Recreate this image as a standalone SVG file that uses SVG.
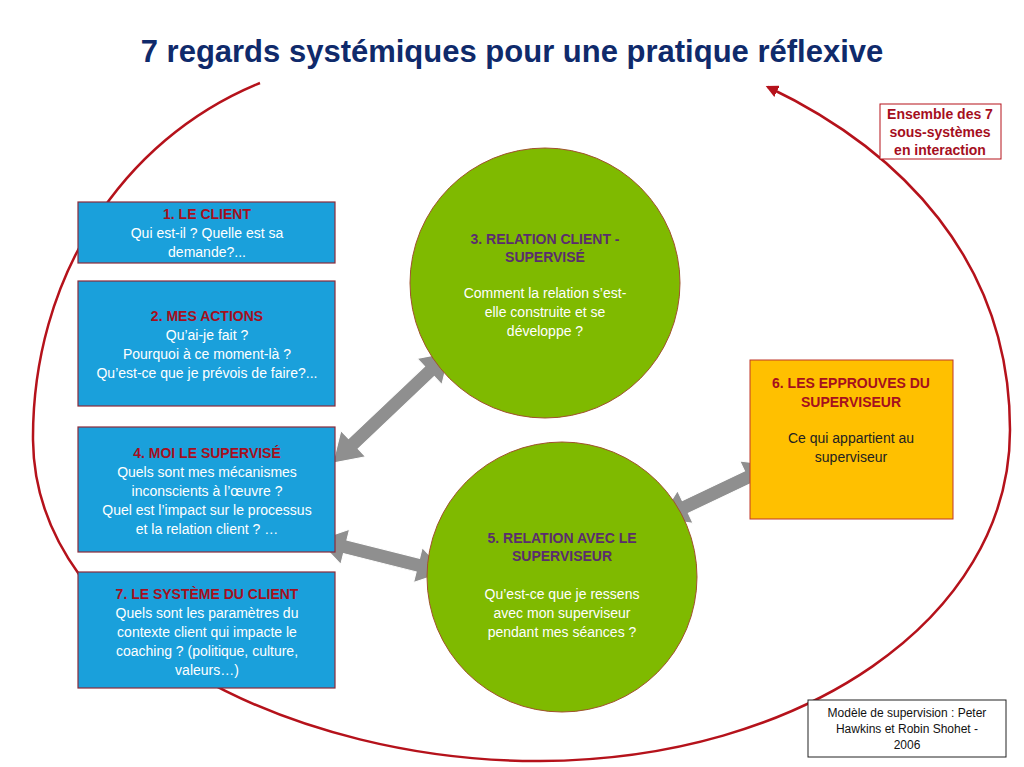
<svg xmlns="http://www.w3.org/2000/svg" width="1024" height="767" viewBox="0 0 1024 767">
<defs>
<style>
text{font-family:"Liberation Sans",Arial,sans-serif;text-anchor:middle}
.box{fill:#1aa0db;stroke:#8b2a3a;stroke-width:1.2}
.circ{fill:#7fba00;stroke:#a0522d;stroke-width:1}
.h{fill:#a50f1e;font-weight:bold;font-size:14px}
.hp{fill:#5a2d6e;font-weight:bold;font-size:14px}
.w{fill:#fff;font-size:14px}
.k{fill:#222;font-size:14px}
.arr{fill:#8f8f8f;stroke:#fff;stroke-width:1}
</style>
<marker id="ah" viewBox="0 0 10 10" refX="8" refY="5" markerWidth="5" markerHeight="5" orient="auto"><path d="M0,0L10,5L0,10z" fill="#b5121b"/></marker>
</defs>
<rect width="1024" height="767" fill="#fff"/>
<text x="512" y="62" style="font-size:31px;font-weight:bold;fill:#0f2a6b">7 regards systémiques pour une pratique réflexive</text>
<g id="connectors">
<path d="M260,83 C120,140 32,280 33,440 C35,640 300,762 540,761 C800,760 1010,620 1010,430 C1010,260 900,150 768,87" fill="none" stroke="#b5121b" stroke-width="2.5" marker-end="url(#ah)"/>
<polygon class="arr" transform="translate(333,463) rotate(-43.5)" points="0,0 28,-18 28,-7 133,-7 133,-18 161,0 133,18 133,7 28,7 28,18"/>
<polygon class="arr" transform="translate(318,540) rotate(14.1)" points="0,0 28,-18 28,-7 103,-7 103,-18 131,0 103,18 103,7 28,7 28,18"/>
<polygon class="arr" transform="translate(660,519) rotate(-25.5)" points="0,0 28,-18 28,-7 97,-7 97,-18 125,0 97,18 97,7 28,7 28,18"/>
</g>
<g id="n1"><rect class="box" x="78" y="202" width="257" height="61"/>
<text class="h" x="207" y="219">1. LE CLIENT</text><text class="w" x="207" y="238">Qui est-il ? Quelle est sa</text><text class="w" x="207" y="257">demande?...</text></g>
<g id="n2"><rect class="box" x="78" y="281" width="257" height="125"/>
<text class="h" x="207" y="321">2. MES ACTIONS</text><text class="w" x="207" y="340">Qu’ai-je fait ?</text><text class="w" x="207" y="359">Pourquoi à ce moment-là ?</text><text class="w" x="207" y="378">Qu’est-ce que je prévois de faire?...</text></g>
<g id="n4"><rect class="box" x="78" y="427" width="257" height="125"/>
<text class="h" x="207" y="458">4. MOI  LE  SUPERVISÉ</text><text class="w" x="207" y="477">Quels sont mes mécanismes</text><text class="w" x="207" y="496">inconscients à l’œuvre ?</text><text class="w" x="207" y="515">Quel est l’impact sur le processus</text><text class="w" x="207" y="534">et la relation client ? …</text></g>
<g id="n7"><rect class="box" x="78" y="572" width="257" height="116"/>
<text class="h" x="207" y="599">7. LE SYSTÈME DU CLIENT</text><text class="w" x="207" y="618">Quels sont les paramètres du</text><text class="w" x="207" y="637">contexte client qui impacte le</text><text class="w" x="207" y="656">coaching ? (politique, culture,</text><text class="w" x="207" y="675">valeurs…)</text></g>
<g id="n3"><circle class="circ" cx="545" cy="283" r="135"/>
<text class="hp" x="545" y="244">3. RELATION CLIENT -</text><text class="hp" x="545" y="262">SUPERVISÉ</text><text class="w" x="545" y="298">Comment la relation s’est-</text><text class="w" x="545" y="317">elle construite et se</text><text class="w" x="545" y="336">développe ?</text></g>
<g id="n5"><circle class="circ" cx="562" cy="577" r="135"/>
<text class="hp" x="562" y="543">5. RELATION AVEC LE</text><text class="hp" x="562" y="561">SUPERVISEUR</text><text class="w" x="562" y="599">Qu’est-ce que je ressens</text><text class="w" x="562" y="618">avec mon superviseur</text><text class="w" x="562" y="637">pendant mes séances ?</text></g>
<g id="n6"><rect x="750" y="360" width="203" height="159" fill="#ffc000" stroke="#c0392b" stroke-width="1"/>
<text class="h" x="851" y="388">6. LES EPPROUVES DU</text><text class="h" x="851" y="407">SUPERVISEUR</text><text class="k" x="851" y="443">Ce qui appartient au</text><text class="k" x="851" y="462">superviseur</text></g>
<g id="legend"><rect x="880" y="104" width="121" height="55" fill="#fff" stroke="#b5121b" stroke-width="1"/>
<text class="h" x="940" y="119">Ensemble des 7</text><text class="h" x="940" y="137">sous-systèmes</text><text class="h" x="940" y="155">en interaction</text></g>
<g id="credit"><rect x="808" y="700" width="198" height="57" fill="#fff" stroke="#222" stroke-width="1"/>
<text x="907" y="717" style="font-size:12px;fill:#111">Modèle de supervision : Peter</text><text x="907" y="733" style="font-size:12px;fill:#111">Hawkins et Robin Shohet -</text><text x="907" y="749" style="font-size:12px;fill:#111">2006</text></g>
</svg>
